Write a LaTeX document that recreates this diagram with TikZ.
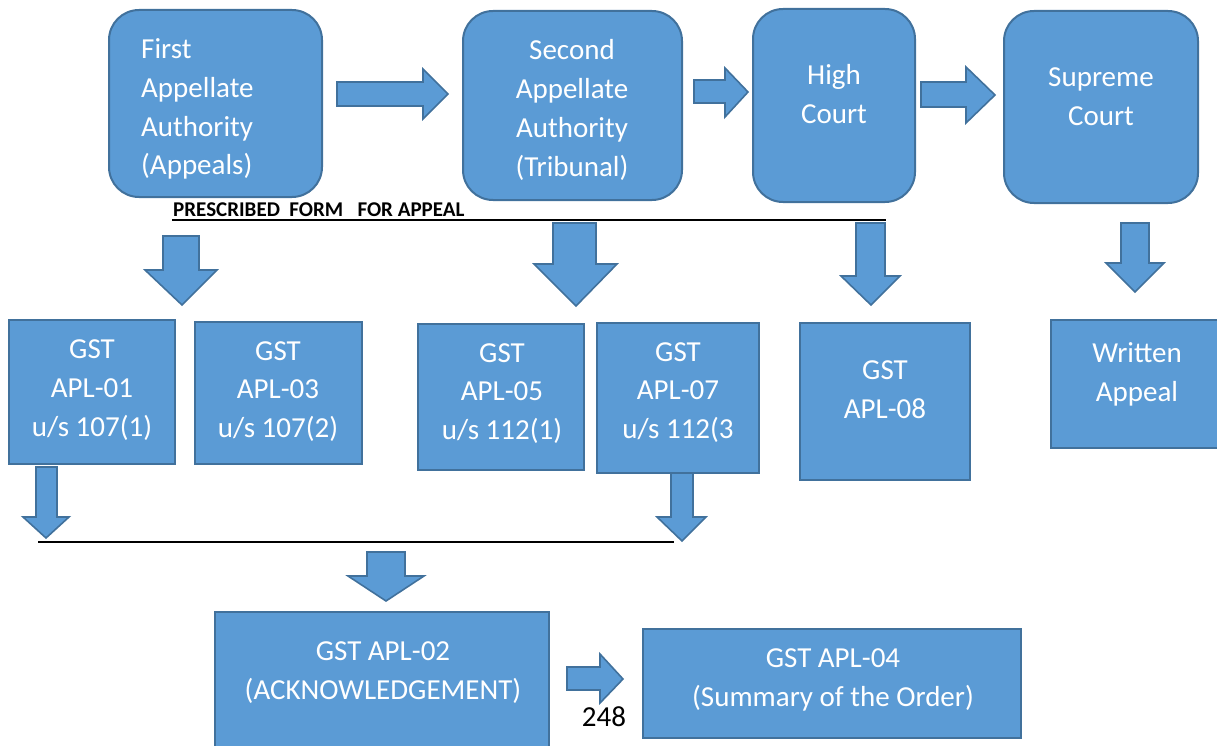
\documentclass[tikz,border=0pt]{standalone}
\usepackage{fontspec}
\setmainfont{Carlito}
\definecolor{boxfill}{HTML}{5B9BD5}
\definecolor{boxline}{HTML}{41719C}

% right-pointing block arrow: tail x, shaft top, shaft bottom, head x, head top, head bottom, tip x, tip y
\newcommand{\rblk}[8]{%
  \draw[blockarrow] (#1,#2) -- (#4,#2) -- (#4,#5) -- (#7,#8) -- (#4,#6) -- (#4,#3) -- (#1,#3) -- cycle;}
% down-pointing block arrow: shaft left, shaft right, top y, head y, head left, head right, tip y, tip x
\newcommand{\dblk}[8]{%
  \draw[blockarrow] (#1,#3) -- (#2,#3) -- (#2,#4) -- (#6,#4) -- (#8,#7) -- (#5,#4) -- (#1,#4) -- cycle;}

\begin{document}
\begin{tikzpicture}[x=1pt,y=-1pt,
  box/.style={draw=boxline, fill=boxfill, line width=2pt, inner sep=0pt},
  rbox/.style={box, rounded corners=30pt},
  txt/.style={text=white, font=\fontsize{29}{38.7}\selectfont, align=center, inner sep=0pt, anchor=base},
  blockarrow/.style={draw=boxline, fill=boxfill, line width=1.6pt, line join=miter},
  rule/.style={draw=black, line width=2pt}]
\useasboundingbox (0,0) rectangle (1217,746);

% appellate levels
\node[rbox, minimum width=213pt, minimum height=187pt] (faa) at (215.5,103.5) {};
\node[rbox, minimum width=219pt, minimum height=189pt] (saa) at (572.5,105.5) {};
\node[rbox, minimum width=162pt, minimum height=193pt] (hc)  at (834,105.5) {};
\node[rbox, minimum width=194pt, minimum height=192pt] (sc)  at (1101,107) {};

% text anchors sit on the baseline of the last line
\node[txt, align=left, anchor=base west] (faat) at (141,175) {First\\Appellate\\Authority\\(Appeals)};
\node[txt] (saat) at (572,176) {Second\\Appellate\\Authority\\(Tribunal)};
\node[txt] (hct) at (834,123.5) {High\\Court};
\node[txt] (sct) at (1101,125.5) {Supreme\\Court};

% forms
\node[box, minimum width=166pt, minimum height=144pt] (apl01) at (92,392) {};
\node[box, minimum width=167pt, minimum height=142pt] (apl03) at (278.5,393) {};
\node[box, minimum width=166pt, minimum height=146pt] (apl05) at (501,397) {};
\node[box, minimum width=162pt, minimum height=150pt] (apl07) at (678,398) {};
\node[box, minimum width=170pt, minimum height=157pt] (apl08) at (885,401.5) {};
\node[box, minimum width=171pt, minimum height=128pt] (wa)    at (1136.5,384) {};
\node[box, minimum width=334pt, minimum height=140pt] (apl02) at (382,682) {};
\node[box, minimum width=378pt, minimum height=109pt] (apl04) at (832,683.5) {};

\node[txt] (apl01t) at (92,436)  {GST\\APL-01\\u/s 107(1)};
\node[txt] (apl03t) at (278,437.5) {GST\\APL-03\\u/s 107(2)};
\node[txt] (apl05t) at (502,439.5) {GST\\APL-05\\u/s 112(1)};
\node[txt] (apl07t) at (678,438.5) {GST\\APL-07\\u/s 112(3};
\node[txt] (apl08t) at (885,418.5) {GST\\APL-08};
\node[txt] (wat)    at (1137,401.5) {Written\\Appeal};
\node[txt] (apl02t) at (383,699.5) {GST APL-02\\(ACKNOWLEDGEMENT)};
\node[txt] (apl04t) at (833,706.5) {GST APL-04\\(Summary of the Order)};
\node[txt, text=black] (page) at (604,726) {248};

% heading with its rule
\node[inner sep=0pt, anchor=base west, font=\fontsize{21}{25}\bfseries] (hdr) at (173,216) {PRESCRIBED~~FORM~~~FOR APPEAL};
\coordinate (hdrend) at (886,220);
\draw[rule] (172,220) -- (hdrend);
\coordinate (joinL) at (38,542);
\coordinate (joinR) at (674,542);
\draw[draw=black, line width=1.3pt] (joinL) -- (joinR);

% block arrows between the levels
\rblk{337}{82}{106}{423}{69}{119}{448}{94}
\rblk{694}{80}{103}{725}{68}{117}{748}{92}
\rblk{921}{82}{107}{966}{67}{123}{995}{95}
\rblk{567}{667}{690}{600}{654}{703}{623}{679}

\dblk{163}{199}{236}{270}{145}{217}{305}{182}
\dblk{553}{596}{223}{264}{534}{617}{306}{576}
\dblk{856}{885}{223}{276}{841}{900}{305}{871}
\dblk{1121}{1149}{223}{263}{1106}{1164}{292}{1135}
\dblk{36}{57}{467}{517}{23}{69}{538}{46}
\dblk{671}{693}{473}{517}{657}{706}{541}{682}
\dblk{367}{405}{552}{576}{348}{424}{601}{386}
\end{tikzpicture}
\end{document}
